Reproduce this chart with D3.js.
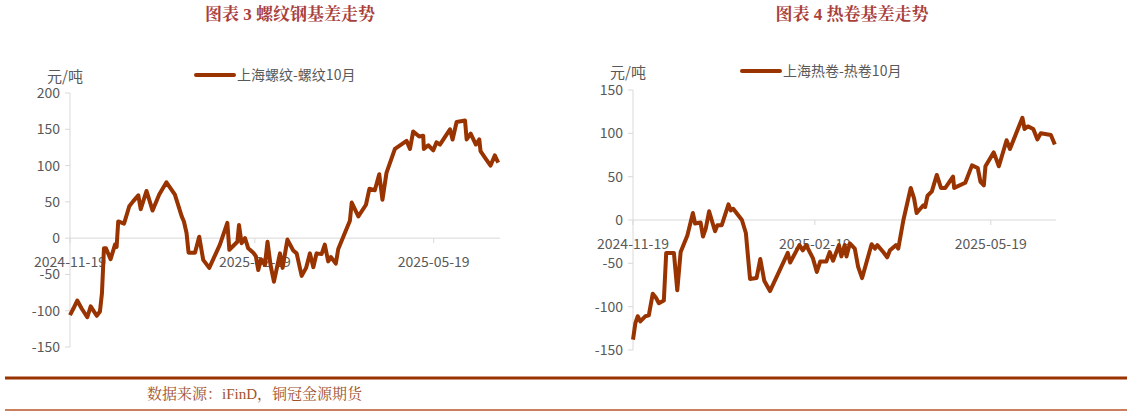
<!DOCTYPE html>
<html><head><meta charset="utf-8">
<script src="https://cdn.jsdelivr.net/npm/d3@7"></script>
<style>body{margin:0;background:#fff}</style>
</head><body>
<svg id="chart" width="1132" height="417"></svg>
<script>
// days since 2024-11-19, and basis values (元/吨)
const rebarDays = [0,1.7,3.6,5.8,8.6,10.3,13.3,14.9,15.9,16.9,17.9,20.2,22.4,23.2,24,26.9,29.5,31.5,34,35.2,38.1,41.1,44.4,48,52.2,55.6,56.7,58,59,62.2,64.3,66.3,69.3,74.6,78.3,79.3,83.3,84.1,85.4,87.1,88.7,91.2,92.5,93.7,95,97,98.3,99.8,101.5,104.5,105.8,108.2,111.1,112.8,115.3,117.5,119.4,121.1,122.7,125.2,126.8,128.5,129.8,132.3,133.5,139.3,140.2,143.5,147.3,149,151.7,153.9,155.5,157.5,161.7,167.5,169.2,170.8,173.8,175.8,176.1,178.3,180.8,182.4,184.1,189.1,190.4,192.4,196.6,197.4,199.4,202,203.7,204.3,206.5,209.3,211.4,213.1];
const rebarVals = [-106,-97,-86,-97,-109,-94,-107,-101,-76,-14,-14,-29,-9,-12,23,20,44,51,59,40,65,38,60,77,60,30,23,7,-20,-20,2,-30,-41,-9,21,-16,-5,18,-7,0,-14,-20,-25,-44,-29,-37,-5,-37,-60,-21,-41,-2,-17,-21,-52,-41,-21,-40,-21,-22,-9,-32,-26,-35,-15,24,49,30,46,68,66,88,53,90,123,134,123,147,140,141,123,128,121,132,129,150,136,160,162,136,144,129,136,120,111,100,114,104];
const coilDays = [0,1.2,2.4,3.7,6.3,8,8.8,10,11.7,13.1,15.6,16.8,20.7,22.4,24.1,27.5,30.3,31.4,34.2,35.4,36.8,38.5,41.5,42.7,44.9,48.3,49.5,50.7,55.1,57.1,59.2,62.5,64.4,66.4,69.3,78.3,79.5,84.2,85.9,87.6,91,93,94.7,97.8,99.5,101.2,104.2,105.4,107.1,108,109.7,112.2,113.9,115.9,120.7,122.4,123.6,126.6,128.6,130,133,134.2,136.8,140.5,142.2,143.5,146.9,147.8,149,151.2,153.7,155.8,158,161.9,162.5,168.1,171.5,174.4,175.8,177.5,178.3,182.5,185.1,189,190.7,197,198.1,199.8,202.5,204.6,206.3,211.4,213.4];
const coilVals = [-138,-119,-111,-117,-111,-110,-100,-85,-90,-96,-93,-38,-38,-81,-37,-18,8,-4,-3,-19,-10,10,-13,-6,-6,18,11,13,0,-15,-68,-67,-45,-70,-82,-38,-49,-29,-35,-29,-44,-60,-48,-48,-37,-47,-29,-42,-29,-42,-27,-33,-54,-67,-28,-33,-29,-37,-43,-35,-29,-33,0,37,25,8,17,15,28,33,52,37,37,50,37,43,63,60,44,40,62,78,62,92,82,118,105,108,105,93,100,98,87];
const tickDates = ["2024-11-19","2025-02-19","2025-05-19"];

const svg = d3.select("#chart");
const parse = d3.timeParse("%Y-%m-%d");
const start = parse("2024-11-19");
const grey = "#595959", lineCol = "#993300";
const serif = "'Liberation Serif','Noto Serif CJK SC','Noto Sans CJK SC',serif";
const sans = "'Noto Sans CJK SC','Noto Sans',sans-serif";

function drawChart(o) {
    const g = svg.append("g");
    const x = d3.scaleTime()
        .domain([start, d3.timeDay.offset(start, o.endDay)])
        .range([o.x0, o.x1]);
    const y = d3.scaleLinear().domain(o.yDom).range([o.yBot, o.yTop]);

    g.append("text").attr("x", o.titleX).attr("y", 20).attr("text-anchor", "middle")
        .style("font-family", serif).style("font-size", "17px").style("font-weight", "bold")
        .attr("fill", "#a8403c").text(o.title);

    // y axis
    g.append("line").attr("x1", o.x0).attr("x2", o.x0).attr("y1", y(o.yDom[1])).attr("y2", y(o.yDom[0]))
        .attr("stroke", "#d9d9d9");
    const yTicks = d3.range(o.yDom[0], o.yDom[1] + 1, 50);
    yTicks.forEach(t => {
        g.append("line").attr("x1", o.x0 - 5).attr("x2", o.x0).attr("y1", y(t)).attr("y2", y(t)).attr("stroke", "#d9d9d9");
        g.append("text").attr("x", o.x0 - 10).attr("y", y(t) + 5).attr("text-anchor", "end")
            .style("font-family", sans).style("font-size", "14px").attr("fill", grey).text(t);
    });
    // x axis at zero
    g.append("line").attr("x1", o.x0).attr("x2", o.x1).attr("y1", y(0)).attr("y2", y(0)).attr("stroke", "#d9d9d9");
    tickDates.forEach(s => {
        const xx = x(parse(s));
        g.append("line").attr("x1", xx).attr("x2", xx).attr("y1", y(0)).attr("y2", y(0) + 5).attr("stroke", "#d9d9d9");
        g.append("text").attr("x", xx).attr("y", y(0) + 29).attr("text-anchor", "middle")
            .style("font-family", sans).style("font-size", "14px").attr("fill", grey).text(s);
    });

    g.append("text").attr("x", o.x0 - 23).attr("y", o.unitY).style("font-family", sans)
        .style("font-size", "15px").attr("fill", grey).text("元/吨");
    g.append("line").attr("x1", o.legX).attr("x2", o.legX + 38).attr("y1", o.legY).attr("y2", o.legY)
        .attr("stroke", lineCol).attr("stroke-width", 4).attr("stroke-linecap", "round");
    g.append("text").attr("x", o.legX + 41).attr("y", o.legY + 5).style("font-family", sans)
        .style("font-size", "14px").attr("fill", grey).text(o.legend);

    const pts = o.days.map((d, i) => [d3.timeDay.offset(start, 0).getTime() + d * 864e5, o.vals[i]]);
    g.append("path").datum(pts)
        .attr("fill", "none").attr("stroke", lineCol).attr("stroke-width", 4).attr("stroke-linejoin", "round")
        .attr("d", d3.line().x(d => x(new Date(d[0]))).y(d => y(d[1])));
}

drawChart({title: "图表 3 螺纹钢基差走势", titleX: 290, x0: 70, x1: 500, endDay: 214,
    yDom: [-150, 200], yTop: 93, yBot: 347, unitY: 82, legX: 196, legY: 75,
    legend: "上海螺纹-螺纹10月", days: rebarDays, vals: rebarVals});
drawChart({title: "图表 4 热卷基差走势", titleX: 852, x0: 633, x1: 1056, endDay: 214,
    yDom: [-150, 150], yTop: 90, yBot: 350, unitY: 78, legX: 742, legY: 71,
    legend: "上海热卷-热卷10月", days: coilDays, vals: coilVals});

// footer rules and source
svg.append("line").attr("x1", 5).attr("x2", 1127).attr("y1", 378).attr("y2", 378).attr("stroke", "#993300").attr("stroke-width", 3);
svg.append("line").attr("x1", 5).attr("x2", 1127).attr("y1", 410).attr("y2", 410).attr("stroke", "#b8562a").attr("stroke-width", 1.5);
svg.append("text").attr("x", 147).attr("y", 399).style("font-family", serif).style("font-size", "15px")
    .attr("fill", "#a0522d").text("数据来源：iFinD，铜冠金源期货");
</script>
</body></html>
